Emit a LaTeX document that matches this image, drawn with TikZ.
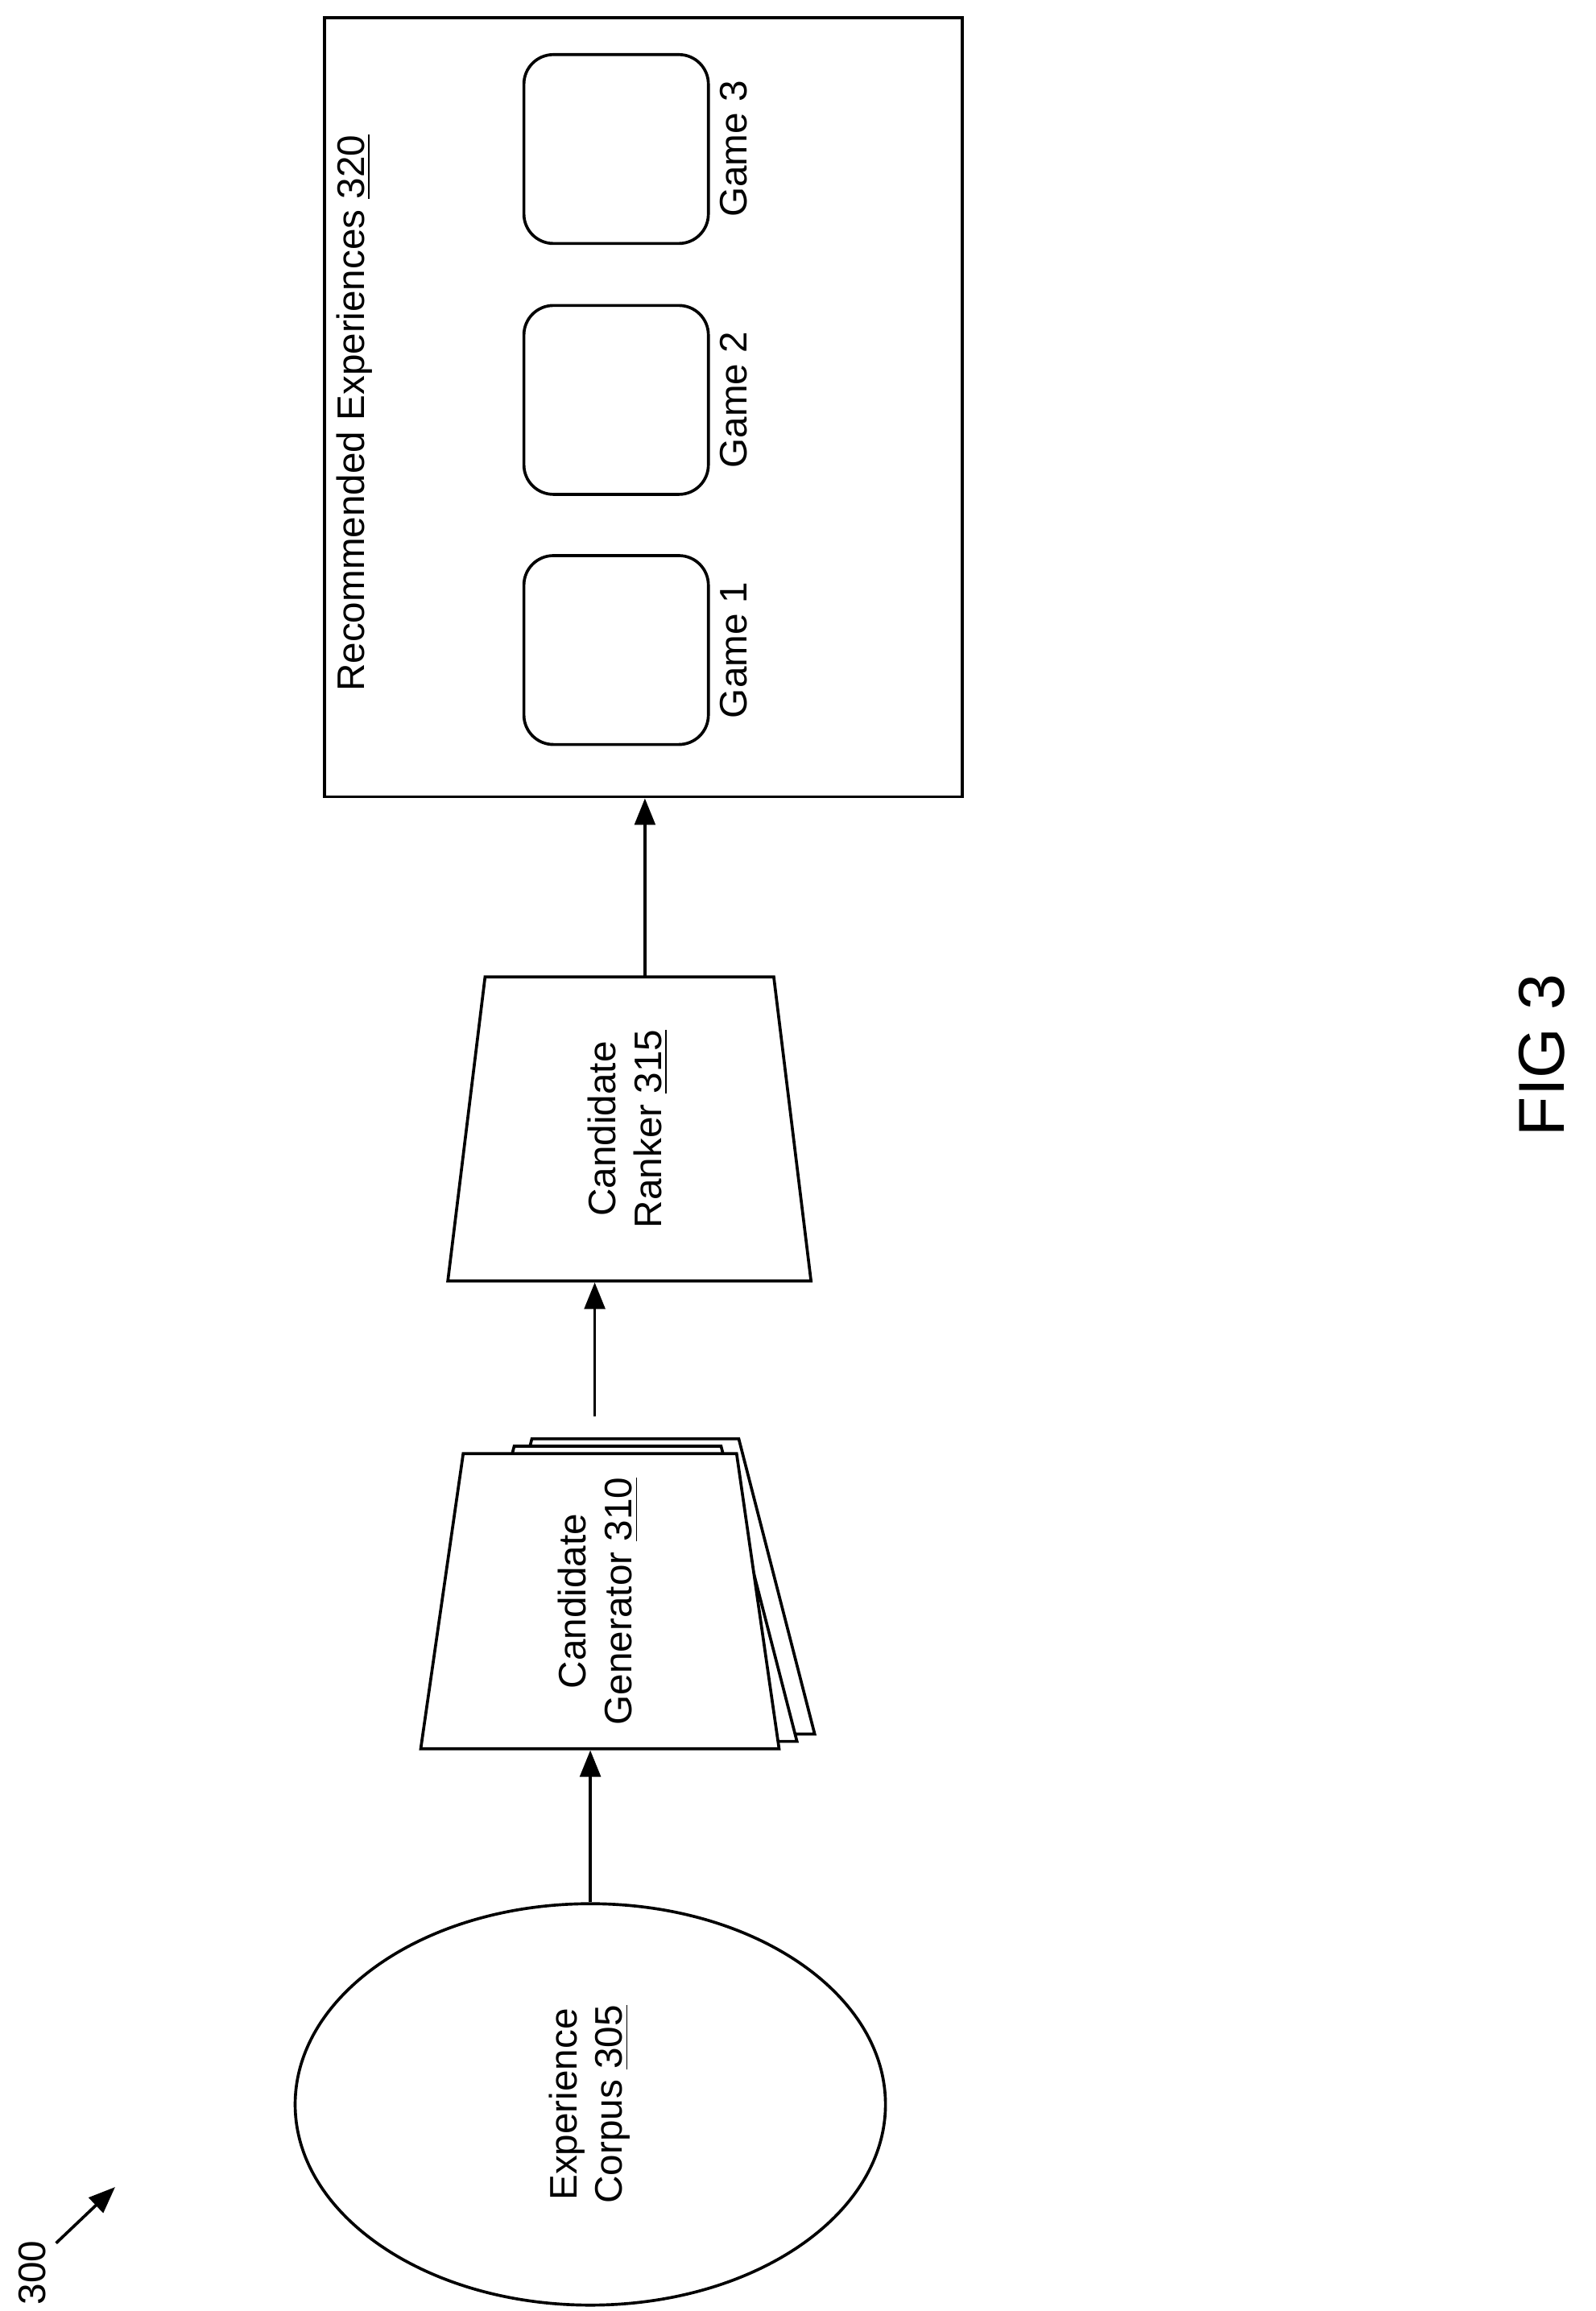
\documentclass[tikz,border=0pt]{standalone}
\usepackage{fontspec}
\setmainfont{Liberation Sans}
\usetikzlibrary{shapes.geometric,arrows.meta}

\tikzset{
	box/.style={draw, line width=1pt, fill=white, inner sep=0pt},
	trap/.style={box, inner sep=1pt, trapezium, trapezium angle=87, trapezium stretches=true},
	flow/.style={line width=1pt, -{Triangle[length=9pt,width=7pt]}},
	lbl/.style={font=\fontsize{13}{15.5}\selectfont, align=center}
}

\begin{document}
\begin{tikzpicture}[x=0.5pt,y=-0.5pt]
		\useasboundingbox (0,0) rectangle (1081,1566);
		
		% corpus
		\node[box, ellipse, minimum width=200pt, minimum height=136pt, lbl] (corpus) at (400,1426) {\rotatebox{90}{\begin{tabular}{c}Experience\\Corpus \underline{305}\end{tabular}}};
		
		% generator stack
		\foreach \i in {2,1}{
			\node[trap, minimum width=121.5pt, minimum height=100pt] (gen\i) at ({406.5+12*\i},{1085-5*\i}) {\strut};
		}
		\node[trap, minimum width=121.5pt, minimum height=100pt, lbl] (gen) at (406.5,1085) {\rotatebox{90}{\begin{tabular}{c}Candidate\\Generator \underline{310}\end{tabular}}};
		
		% ranker
		\node[trap, minimum width=123.5pt, minimum height=103pt, lbl] (rank) at (426.5,765) {\rotatebox{90}{\begin{tabular}{c}Candidate\\Ranker \underline{315}\end{tabular}}};
		
		% recommended experiences
		\node[box, minimum width=216pt, minimum height=264pt] (rec) at (436,276) {};
		\node[lbl] (rectitle) at (240,280) {\rotatebox{90}{Recommended Experiences \underline{320}}};
		\foreach \i/\y in {1/440.5, 2/271, 3/101}{
			\node[box, rounded corners=10pt, minimum width=62.5pt, minimum height=64pt] (game\i) at (417.5,\y) {};
			\node[lbl] (gamelbl\i) at (497,\y) {\rotatebox{90}{Game \i}};
		}
		
		% arrows
		\draw[flow] (corpus.north) -- (corpus.north |- gen.south);
		\coordinate (c2) at (403,960);
		\draw[flow] (c2) -- (c2 |- rank.south);
		\coordinate (c3) at (437,662);
		\draw[flow] (c3) -- (c3 |- rec.south);
		
		% figure label
		\node[lbl] (ref) at (22,1540) {\rotatebox{90}{300}};
		\coordinate (r1) at (38,1520);
		\coordinate (r2) at (78,1482);
		\draw[line width=1pt, -{Triangle[length=9pt,width=7pt]}] (r1) -- (r2);
		\node[font=\fontsize{22}{26}\selectfont] (fig) at (1045,715) {\rotatebox{90}{FIG 3}};
	\end{tikzpicture}
\end{document}
